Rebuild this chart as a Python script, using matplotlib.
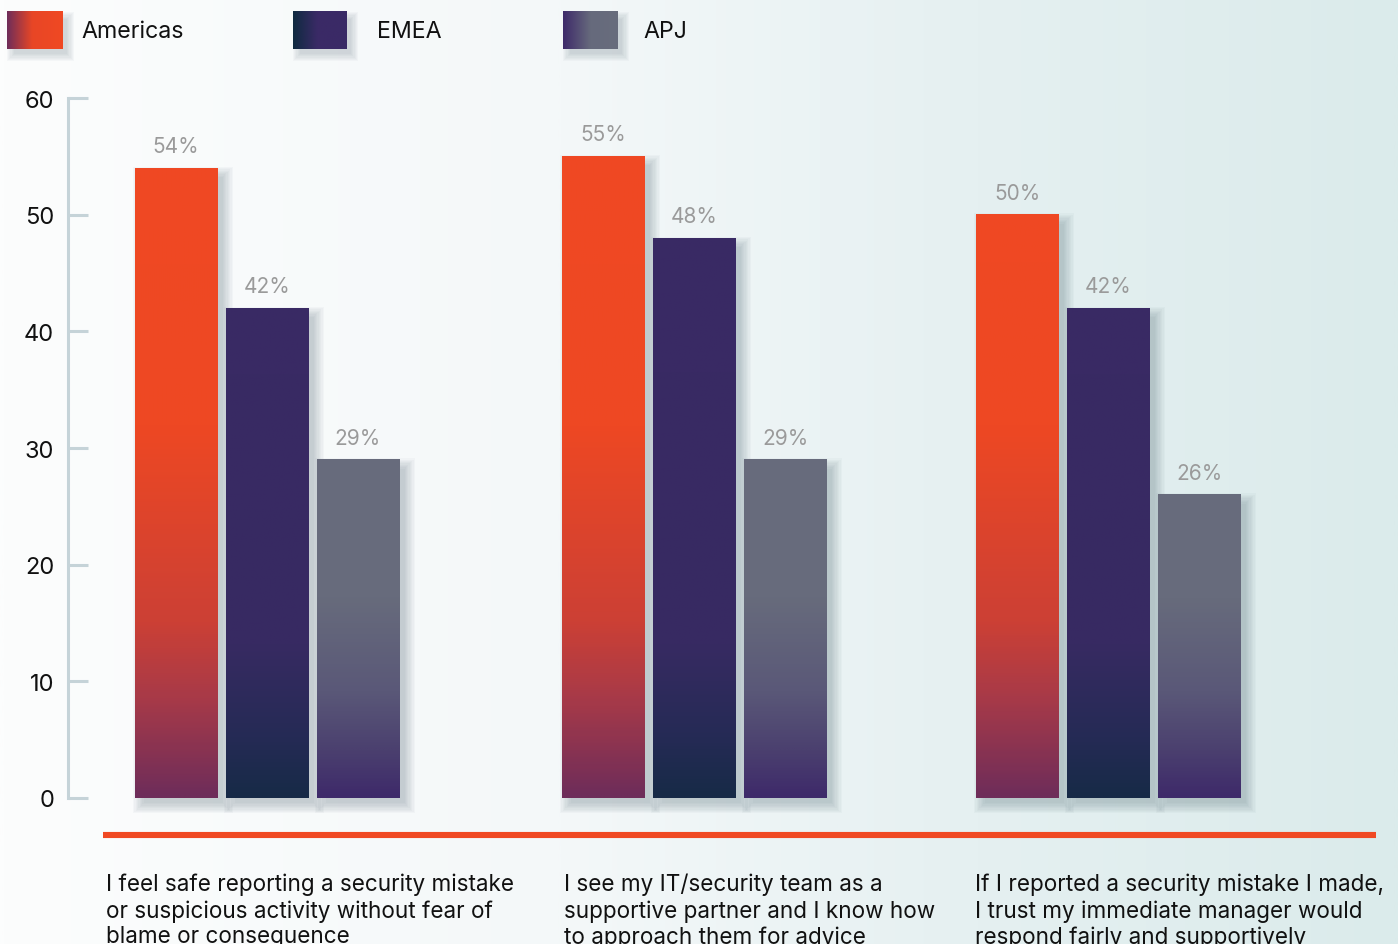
import numpy as np
import matplotlib
matplotlib.use("Agg")
import matplotlib.pyplot as plt
from matplotlib.colors import LinearSegmentedColormap, Normalize
from matplotlib.patches import Rectangle

# ---------------- data ----------------
categories = [
    "I feel safe reporting a security mistake\nor suspicious activity without fear of\nblame or consequence",
    "I see my IT/security team as a\nsupportive partner and I know how\nto approach them for advice",
    "If I reported a security mistake I made,\nI trust my immediate manager would\nrespond fairly and supportively",
]
series_names = ["Americas", "EMEA", "APJ"]
americas = [54, 55, 50]
emea = [42, 48, 42]
apj = [29, 29, 26]
yticks = [0, 10, 20, 30, 40, 50, 60]

values = [americas, emea, apj]

# ---------------- styles ----------------
FONT = "Inter"
plt.rcParams["font.family"] = [FONT, "DejaVu Sans"]
W, H = 1398, 945
fig = plt.figure(figsize=(W / 100, H / 100), dpi=100)

# bar gradient colormaps (stops in data units / 60)
cmaps = [
    LinearSegmentedColormap.from_list("am", [(0, "#6e2d5a"), (8.5 / 60, "#a83a48"), (15 / 60, "#cc4035"),
                                            (32 / 60, "#ee4823"), (1, "#f04923")]),
    LinearSegmentedColormap.from_list("em", [(0, "#172a47"), (5 / 60, "#252b55"), (13 / 60, "#372a62"),
                                            (1, "#3b2a66")]),
    LinearSegmentedColormap.from_list("ap", [(0, "#3e2a6a"), (4 / 60, "#4b406f"), (9 / 60, "#5a5878"),
                                            (17 / 60, "#676b7c"), (1, "#686d7d")]),
]
legend_cmaps = [
    LinearSegmentedColormap.from_list("l0", [(0, "#6e2d5a"), (0.45, "#e84626"), (1, "#f04923")]),
    LinearSegmentedColormap.from_list("l1", [(0, "#0f2a40"), (0.45, "#3a2a66"), (1, "#3b2a66")]),
    LinearSegmentedColormap.from_list("l2", [(0, "#3e2a6a"), (0.5, "#666a7c"), (1, "#686d7d")]),
]

# ---------------- background ----------------
bg = fig.add_axes([0, 0, 1, 1], zorder=0)
bg_cmap = LinearSegmentedColormap.from_list("bg", [(0, "#fcfdfd"), (0.4, "#f4f8f9"), (0.7, "#e5f0f1"),
                                                   (1, "#dbebeb")])
bg.imshow(np.linspace(0, 1, 512)[None, :], aspect="auto", cmap=bg_cmap, extent=(0, 1, 0, 1))
bg.set_axis_off()

# ---------------- main axes ----------------
y0_px, y60_px = 799, 99
x_left = 68
ax = fig.add_axes([x_left / W, (H - y0_px) / H, (W - x_left) / W, (y0_px - y60_px) / H], zorder=1)
ax.patch.set_alpha(0)
py = 60 / (y0_px - y60_px)  # data units per pixel (y)

group_centers = [267, 694, 1108]
offsets = [-91, 0, 91]
bw = 83

norm = Normalize(0, 60)
for si, vals in enumerate(values):
    for gi, v in enumerate(vals):
        xc = group_centers[gi] + offsets[si]
        x0, x1 = xc - bw / 2, xc + bw / 2
        # soft shadow
        for k in range(9):
            e = k * 1.3
            ax.add_patch(Rectangle((x0 + 9 - e, -5 * py - e * py), bw + 2 * e - 4, v + 2 * e * py - 4 * py,
                                   facecolor="#4d6570", edgecolor="none", alpha=0.035, zorder=1,
                                   clip_on=False))
        grad = np.linspace(0, v, 256)[:, None]
        ax.imshow(grad, cmap=cmaps[si], norm=norm, origin="lower", aspect="auto",
                  extent=(x0, x1, 0, v), zorder=2, interpolation="bilinear", clip_on=False)
        ax.text(xc, v + 16 * py, f"{v}%", ha="center", va="baseline", fontsize=15,
                color="#9a9a9a", zorder=3)
ax.set_xlim(x_left, W)
ax.set_ylim(0, 60)

for s in ["top", "right", "bottom"]:
    ax.spines[s].set_visible(False)
ax.spines["left"].set_color("#c5d3d8")
ax.spines["left"].set_linewidth(2.2)
ax.set_xticks([])
ax.set_yticks(yticks)
ax.set_yticklabels([str(t) for t in yticks])
ax.tick_params(axis="y", direction="in", length=14.5, width=2.2, color="#c5d3d8",
               labelsize=17, labelcolor="#111111", pad=10)

# ---------------- overlay (legend, red line, category labels) ----------------
ov = fig.add_axes([0, 0, 1, 1], zorder=2)
ov.patch.set_alpha(0)
ov.set_axis_off()

leg_sq = [(7, 63), (293, 347), (563, 618)]
leg_txt = [81, 377, 643]
for i, name in enumerate(series_names):
    xa, xb = leg_sq[i]
    for k in range(7):
        e = k * 1.2
        ov.add_patch(Rectangle((xa + 7 - e, 20 - e), (xb - xa) + 2 * e - 3, 38 + 2 * e - 3,
                               facecolor="#4d6570", edgecolor="none", alpha=0.035, zorder=1))
    ov.imshow(np.linspace(0, 1, 256)[None, :], cmap=legend_cmaps[i], aspect="auto",
              extent=(xa, xb, 50, 12), zorder=2, interpolation="bilinear")
    ov.text(leg_txt[i], 32.5, name, ha="left", va="center", fontsize=16.7, color="#111111", zorder=3)
ov.set_xlim(0, W)
ov.set_ylim(H, 0)

ov.plot([103, 1376], [836, 836], color="#f04923", lw=4.4, solid_capstyle="butt", zorder=2)

cat_x = [106, 564, 975]
for i, c in enumerate(categories):
    ov.text(cat_x[i], 874, c, ha="left", va="top", fontsize=16.2, color="#111111",
            linespacing=1.21, zorder=3)

fig.savefig("out.png", dpi=100)
